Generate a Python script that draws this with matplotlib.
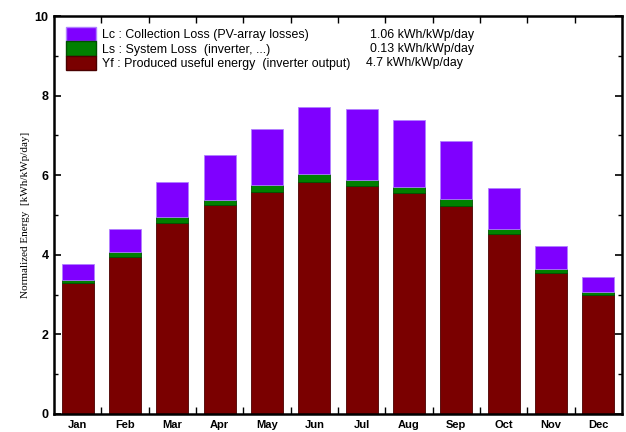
import matplotlib.pyplot as plt
import numpy as np
from matplotlib.patches import Patch

months = ["Jan", "Feb", "Mar", "Apr", "May", "Jun", "Jul", "Aug", "Sep", "Oct", "Nov", "Dec"]
# values, kWh/kWp/day
yf = [3.29, 3.94, 4.81, 5.25, 5.58, 5.84, 5.72, 5.55, 5.22, 4.52, 3.55, 2.98]
ls = [0.07, 0.13, 0.15, 0.14, 0.17, 0.18, 0.15, 0.15, 0.18, 0.14, 0.10, 0.09]
lc = [0.40, 0.57, 0.86, 1.11, 1.41, 1.70, 1.79, 1.70, 1.46, 1.01, 0.58, 0.37]

legend_labels = ["Lc : Collection Loss (PV-array losses)",
                 "Ls : System Loss  (inverter, ...)",
                 "Yf : Produced useful energy  (inverter output)"]
legend_values = ["1.06 kWh/kWp/day", "0.13 kWh/kWp/day", "4.7 kWh/kWp/day"]

c_lc, c_ls, c_yf = "#7f00ff", "#008000", "#7a0000"

plt.rcParams["font.family"] = "Liberation Sans"

fig = plt.figure(figsize=(6.26, 4.32), dpi=100)
ax = fig.add_axes([0.0863, 0.0417, 0.9073, 0.921])

x = np.arange(len(months))
w = 0.68
ax.bar(x, yf, w, color=c_yf, edgecolor="#4a0000", linewidth=0.6)
ax.bar(x, ls, w, bottom=yf, color=c_ls, edgecolor="#005000", linewidth=0.6)
ax.bar(x, lc, w, bottom=np.add(yf, ls), color=c_lc, edgecolor="#b080ff", linewidth=0.6)

ax.set_xlim(-0.5, len(months) - 0.5)
ax.set_ylim(0, 10)

ax.set_xticks(x)
ax.set_xticklabels(months, fontsize=8, fontweight="bold")
ax.set_xticks(np.arange(len(months) - 1) + 0.5, minor=True)
ax.tick_params(axis="x", which="major", length=0, pad=4.5)
ax.tick_params(axis="x", which="minor", direction="in", length=5, width=1, top=True)

ax.set_yticks(np.arange(0, 11, 2))
ax.set_yticks(np.arange(1, 10, 2), minor=True)
ax.tick_params(axis="y", which="major", direction="in", length=5, width=1.2,
               right=True, labelsize=9, pad=4)
ax.tick_params(axis="y", which="minor", direction="in", length=3, width=1, right=True)
for t in ax.get_yticklabels():
    t.set_fontweight("bold")

for s in ax.spines.values():
    s.set_linewidth(1.8)

ax.set_ylabel("Normalized Energy  [kWh/kWp/day]", fontsize=8,
              family="Liberation Serif", labelpad=3)

handles = [Patch(facecolor=c_lc, edgecolor="#b080ff"),
           Patch(facecolor=c_ls, edgecolor="#005000"),
           Patch(facecolor=c_yf, edgecolor="#4a0000")]
leg = ax.legend(handles, legend_labels, loc="upper left", frameon=False,
                fontsize=8.9, handlelength=2.5, handleheight=1.4,
                handletextpad=0.45, labelspacing=0.0, borderaxespad=0.3,
                bbox_to_anchor=(0.005, 0.994))
for i, v in enumerate(legend_values):
    ax.text(0.556 - (0.007 if i == 2 else 0), 0.953 - i * 0.0355, v,
            transform=ax.transAxes, fontsize=8.9, ha="left", va="center")

fig.savefig("out.png", dpi=100)
